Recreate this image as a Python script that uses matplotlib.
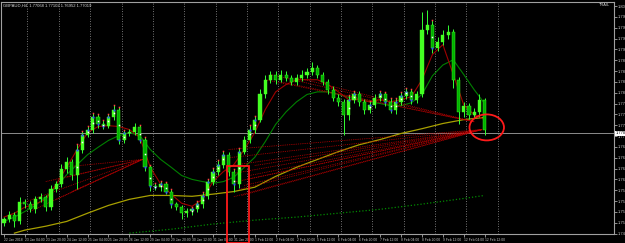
import numpy as np
import matplotlib
matplotlib.use("Agg")
import matplotlib.pyplot as plt
from matplotlib.patches import Ellipse, Rectangle
import matplotlib.transforms as mtransforms

# ---------------- data ----------------
symbol_title = "GBPAUD,H4  1.77068 1.77102 1.76952 1.77019"
corner_text = "TRAIL"
time_labels = ["22 Jan 2018", "23 Jan 04:00", "23 Jan 20:00", "24 Jan 12:00",
               "25 Jan 04:00", "25 Jan 20:00", "26 Jan 12:00", "29 Jan 04:00",
               "29 Jan 20:00", "30 Jan 12:00", "31 Jan 04:00", "31 Jan 20:00",
               "1 Feb 12:00", "2 Feb 04:00", "2 Feb 20:00", "5 Feb 12:00",
               "6 Feb 04:00", "6 Feb 20:00", "7 Feb 12:00", "8 Feb 04:00",
               "8 Feb 20:00", "9 Feb 12:00", "12 Feb 04:00", "12 Feb 12:00"]
first_open = 1.7500
closes = [1.7508, 1.7519, 1.7503, 1.7549, 1.7543, 1.7531, 1.7554, 1.7559, 1.7536, 1.7577,
          1.7589, 1.7623, 1.7641, 1.7611, 1.7669, 1.7703, 1.7715, 1.7743, 1.7727, 1.7724,
          1.7743, 1.7761, 1.7692, 1.7706, 1.7710, 1.7720, 1.7692, 1.7628, 1.7584, 1.7582,
          1.7589, 1.7572, 1.7543, 1.7536, 1.7522, 1.7526, 1.7531, 1.7543, 1.7561, 1.7593,
          1.7618, 1.7634, 1.7657, 1.7618, 1.7589, 1.7664, 1.7692, 1.7715, 1.7738, 1.7796,
          1.7830, 1.7842, 1.7830, 1.7842, 1.7835, 1.7825, 1.7835, 1.7842, 1.7848, 1.7858,
          1.7842, 1.7825, 1.7807, 1.7789, 1.7779, 1.7749, 1.7784, 1.7796, 1.7779, 1.7761,
          1.7772, 1.7789, 1.7796, 1.7779, 1.7761, 1.7779, 1.7793, 1.7802, 1.7784, 1.7796,
          1.7945, 1.7957, 1.7904, 1.7917, 1.7934, 1.7940, 1.7830, 1.7756, 1.7770, 1.7749,
          1.7756, 1.7784, 1.7715]
upper_wick_pips = [6, 8, 5, 10, 6, 8, 7, 9, 6, 10,
                   8, 12, 10, 6, 12, 9, 8, 10, 7, 9,
                   8, 11, 6, 8, 7, 10, 6, 5, 6, 8,
                   7, 6, 5, 6, 5, 7, 6, 8, 9, 7,
                   8, 10, 9, 6, 5, 8, 9, 10, 8, 12,
                   10, 9, 8, 10, 8, 7, 9, 10, 8, 13,
                   6, 7, 6, 8, 7, 6, 10, 9, 7, 6,
                   8, 9, 7, 6, 8, 9, 8, 10, 7, 9,
                   41, 34, 10, 12, 10, 17, 8, 6, 8, 7,
                   9, 12, 5]
lower_wick_pips = [8, 6, 13, 7, 9, 6, 8, 7, 10, 6,
                   7, 6, 8, 12, 34, 7, 6, 8, 9, 7,
                   6, 7, 10, 8, 6, 7, 9, 8, 10, 7,
                   8, 6, 9, 7, 14, 8, 7, 6, 8, 7,
                   6, 8, 7, 10, 19, 8, 6, 7, 8, 6,
                   7, 8, 9, 6, 7, 8, 6, 7, 8, 6,
                   9, 8, 10, 7, 9, 46, 12, 8, 10, 9,
                   8, 7, 9, 10, 8, 9, 8, 7, 10, 8,
                   6, 9, 12, 8, 7, 10, 20, 29, 12, 10,
                   8, 11, 12]

fast_ma_bars = list(range(0, 93, 2))
fast_ma = [1.7513, 1.7522, 1.7536, 1.7543, 1.7554, 1.7589, 1.7628, 1.7669, 1.7708, 1.7722,
           1.7724, 1.7722, 1.7715, 1.7697, 1.7628, 1.7589, 1.7566, 1.7545, 1.7538, 1.7554,
           1.7595, 1.7618, 1.7634, 1.7669, 1.7708, 1.7761, 1.7802, 1.7819, 1.7830, 1.7830,
           1.7830, 1.7819, 1.7802, 1.7784, 1.7784, 1.7779, 1.7784, 1.7779, 1.7784, 1.7791,
           1.7830, 1.7888, 1.7911, 1.7842, 1.7772, 1.7749, 1.7738]
mid_ma_bars = list(range(0, 93, 2))
mid_ma = [1.7503, 1.7513, 1.7526, 1.7540, 1.7559, 1.7582, 1.7611, 1.7634, 1.7657, 1.7674,
          1.7690, 1.7701, 1.7708, 1.7701, 1.7669, 1.7646, 1.7628, 1.7609, 1.7600, 1.7595,
          1.7591, 1.7595, 1.7605, 1.7628, 1.7651, 1.7687, 1.7727, 1.7756, 1.7779, 1.7796,
          1.7802, 1.7802, 1.7796, 1.7789, 1.7784, 1.7779, 1.7775, 1.7770, 1.7770, 1.7777,
          1.7796, 1.7839, 1.7864, 1.7876, 1.7842, 1.7807, 1.7775]
slow_ma_bars = [2, 4, 8, 12, 16, 20, 24, 28, 32, 36, 40, 44, 48, 52, 56, 60, 64, 68, 72, 76,
                80, 84, 88, 92]
slow_ma = [1.7476, 1.7483, 1.7492, 1.7503, 1.7522, 1.7540, 1.7554, 1.7563, 1.7563, 1.7561,
           1.7566, 1.7572, 1.7582, 1.7607, 1.7628, 1.7646, 1.7664, 1.7680, 1.7692, 1.7706,
           1.7717, 1.7729, 1.7738, 1.7743]
long_ma_bars = [24, 32, 40, 48, 56, 64, 72, 80, 88, 92]
long_ma = [1.7476, 1.7485, 1.7497, 1.7506, 1.7513, 1.7522, 1.7531, 1.7543, 1.7556, 1.7563]

marked_bars = [14, 15, 16, 17, 18, 19, 20, 21, 22, 23, 26, 27, 28, 29, 30, 31, 32,
               36, 37, 38, 39, 40, 41, 42, 44, 45, 47, 48, 66, 67, 70, 72, 73, 74,
               75, 76, 77, 78, 82]

# trendline fans: (bar, price) start points -> common end point
fan1_end = (26.5, 1.7646)
fan1_starts = [(3, 1.7543), (5, 1.7526), (8, 1.7595), (10, 1.7554),
               (11, 1.7628), (12, 1.7605), (13, 1.7572)]
fan2_end = (91.5, 1.7715)
fan2_starts = [(43, 1.7669), (43, 1.7650), (43.5, 1.7632), (44, 1.7614), (44.5, 1.7595),
               (45, 1.7577), (45.5, 1.7563), (46, 1.7586), (47, 1.7609), (48, 1.7632),
               (44, 1.7560), (46.5, 1.7600)]
fan3_end = (90, 1.7733)
fan3_starts = [(50, 1.7830), (51, 1.7842), (53, 1.7825), (56, 1.7835)]

bid_price = 1.7706
price_ticks = np.arange(1.7475, 1.80001, 0.0025)

# ---------------- figure ----------------
W, H = 625, 243
fig = plt.figure(figsize=(W / 100, H / 100), dpi=100, facecolor="black")
ax = fig.add_axes([1 / W, (H - 234) / H, 613 / W, 232 / H], facecolor="black")

n = len(closes)
bars = np.arange(n)
opens = [first_open] + closes[:-1]
highs = [max(o, c) + u * 0.0001 for o, c, u in zip(opens, closes, upper_wick_pips)]
lows = [min(o, c) - l * 0.0001 for o, c, l in zip(opens, closes, lower_wick_pips)]

ax.set_xlim(-0.571, 116.76)
ax.set_ylim(1.7474, 1.80094)

# vertical grid
for gx in np.arange(4.5, 95, 6):
    ax.axvline(gx, color="#9a9a9a", lw=0.6, ls=(0, (1, 2)), zorder=1)

# bid line
ax.axhline(bid_price, color="#8c8c8c", lw=0.7, zorder=1)

# moving averages
ax.plot(long_ma_bars, long_ma, color="#008a00", lw=0.9, ls=(0, (1, 1.6)), zorder=2)
ax.plot(slow_ma_bars, slow_ma, color="#a8a000", lw=0.9, zorder=2)
ax.plot(mid_ma_bars, mid_ma, color="#008000", lw=0.8, zorder=2)
ax.plot(fast_ma_bars, fast_ma, color="#a00000", lw=0.8, zorder=2)

# trendline fans
for starts, end in ((fan1_starts, fan1_end), (fan2_starts, fan2_end), (fan3_starts, fan3_end)):
    for sb, sp in starts:
        ax.plot([sb, end[0]], [sp, end[1]], color="#c00000", lw=0.6,
                ls=(0, (1, 1.2)), zorder=2)

# candles
ax.vlines(bars, lows, highs, color="#33ff33", lw=0.7, zorder=3)
bodies = [max(abs(c - o), 0.00012) for o, c in zip(opens, closes)]
bottoms = [min(o, c) for o, c in zip(opens, closes)]
colors = ["#44ff22" if c >= o else "#00b000" for o, c in zip(opens, closes)]
ax.bar(bars, bodies, bottom=bottoms, width=0.6, color=colors,
       edgecolor="#44ff22", linewidth=0.3, zorder=4)

# indicator dots on some candles
mb = np.array(marked_bars)
ax.plot(mb, [closes[i] for i in marked_bars], ls="none", marker="s", ms=1.4,
        color="#3050ff", mec="none", zorder=5)
ax.plot(mb, [(highs[i] + lows[i]) / 2 for i in marked_bars], ls="none", marker="s",
        ms=1.1, color="#ffffff", mec="none", zorder=5)
ax.plot(mb, [highs[i] for i in marked_bars], ls="none", marker="s", ms=1.1,
        color="#ff4040", mec="none", zorder=5)

# annotations: red ellipse and rectangle
ax.add_patch(Ellipse((92.4, 1.7720), 6.6, 0.0060, fill=False, ec="#ff1a1a",
                     lw=1.3, zorder=6))
ax.add_patch(Rectangle((42.7, 1.7453), 4.2, 1.7630 - 1.7453, fill=False,
                       ec="#ff1a1a", lw=1.3, clip_on=False, zorder=6))

# axes styling
for side in ("left", "top", "right", "bottom"):
    ax.spines[side].set_color("#a0a0a0")
    ax.spines[side].set_linewidth(0.8)

ax.yaxis.tick_right()
ax.set_yticks(price_ticks)
ax.set_yticklabels([f"{p:.5f}" for p in price_ticks], family="Liberation Sans")
ax.tick_params(axis="y", colors="#c8c8c8", labelsize=3.0, length=2, width=0.5, pad=1.0)

label_bars = np.arange(0, n, 4)
ax.set_xticks(label_bars)
ax.set_xticklabels(time_labels, ha="left", family="Liberation Sans")
ax.tick_params(axis="x", colors="#c8c8c8", labelsize=2.4, length=2, width=0.5, pad=1.2)

# current price label
trans = mtransforms.blended_transform_factory(ax.transAxes, ax.transData)
ax.text(1.003, bid_price, f"{bid_price:.5f}", transform=trans, fontsize=3.0,
        family="Liberation Sans", color="black", va="center", ha="left",
        zorder=7, clip_on=False,
        bbox=dict(boxstyle="square,pad=0.1", fc="white", ec="none"))

# texts
ax.text(0.003, 0.995, symbol_title, transform=ax.transAxes, fontsize=3.0,
        family="Liberation Sans", color="#d8d8d8", va="top", ha="left")
ax.text(0.994, 0.995, corner_text, transform=ax.transAxes, fontsize=2.8,
        family="Liberation Sans", color="#d8d8d8", va="top", ha="right")

fig.savefig("out.png", dpi=100, facecolor="black")
